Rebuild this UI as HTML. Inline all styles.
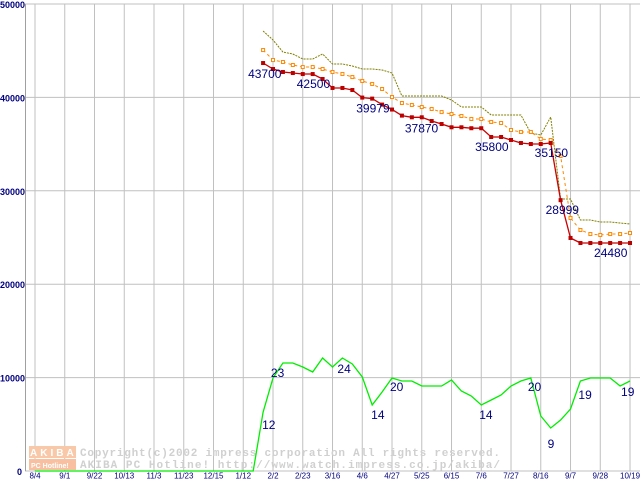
<!DOCTYPE html>
<html><head><meta charset="utf-8"><style>
html,body{margin:0;padding:0;background:#fff;}
svg{display:block;font-family:"Liberation Sans",sans-serif;}
</style></head><body>
<svg id="chart" width="640" height="480" xmlns="http://www.w3.org/2000/svg"></svg>
<script>
const xLabels=["8/4","9/1","9/22","10/13","11/3","11/23","12/15","1/12","2/2","2/23","3/16","4/6","4/27","5/25","6/15","7/6","7/27","8/16","9/7","9/28","10/19"];
const yTicks=[0,10000,20000,30000,40000,50000];
const priceStart=23;
const minPrice=[43680,43040,42720,42610,42500,42500,41970,41010,41010,40790,39980,39870,39230,38700,38050,37870,37870,37470,37150,36800,36800,36700,36700,35760,35760,35440,35120,35010,35010,35120,29000,24950,24410,24410,24410,24410,24410,24410];
const avgPrice=[45070,44000,43790,43470,43250,43250,43040,42720,42510,42180,41760,41440,40900,40040,39400,39190,38970,38760,38430,38220,38010,37690,37690,37370,37260,36510,36300,36300,35550,35440,33730,27090,25800,25370,25270,25370,25370,25480];
const maxPrice=[47110,46150,44860,44650,44110,44110,44650,43580,43580,43360,43040,43040,42930,42610,40150,40150,40150,40150,40150,39720,38970,38970,38970,38120,38120,38120,38120,36190,35970,37900,29120,29120,26870,26870,26660,26660,26550,26450];
const shopStart=22;
const shopCount=[0,6300,9960,11560,11560,11130,10600,12100,11130,12100,11460,10060,7070,8460,9960,9640,9640,9100,9100,9100,9740,8570,8030,7070,7600,8140,9100,9640,9960,5890,4600,5460,6640,9640,9960,9960,9960,9100,9640];
const priceLabels=[["43700",23,43680,-15,15],["42500",27,42500,-6,14],["39979",33,39980,-6,15],["37870",38,37870,-7,15],["35800",46,35760,-16,14],["35150",52,35120,-16,14],["28999",53,29000,-15,14],["24480",60,24410,-36,14]];
const shopLabels=[["12",23,6300,-1,17],["23",25,11560,-12,14],["24",31,12100,-5,15],["14",34,7070,-1,14],["20",36,9960,-2,13],["14",45,7070,-2,14],["20",50,9960,-3,13],["9",52,4600,-3,20],["19",55,9640,-2,18],["19",60,9640,-9,15]];

const NS="http://www.w3.org/2000/svg";
const svg=document.getElementById('chart');
const X0=35,STEP=9.917,Y0=471,YK=93.4/10000;
const xs=i=>X0+i*STEP;
const ys=v=>Y0-v*YK;
function el(tag,attrs,parent){const e=document.createElementNS(NS,tag);for(const k in attrs)e.setAttribute(k,attrs[k]);(parent||svg).appendChild(e);return e;}

yTicks.forEach(v=>{
  const l=el('line',{x1:25,x2:640,y1:ys(v),y2:ys(v),stroke:'#c0c0c0','stroke-width':1});
  
  
  const t=el('text',{x:v===0?22:25,y:ys(v)+4,'text-anchor':'end','font-size':9,'font-weight':'bold',fill:'#000080'});
  t.textContent=v;
  
  
});
xLabels.forEach((s,i)=>{
  const x=xs(i*3);
  const l=el('line',{x1:x,x2:x,y1:4,y2:471,stroke:'#c0c0c0','stroke-width':1});
  
  
  const t=el('text',{x:x,y:478.5,'text-anchor':'middle','font-size':8,fill:'#000080'});
  t.textContent=s;
  
  
});
const ax=el('line',{x1:25.5,x2:25.5,y1:4,y2:471,stroke:'#a0a0a0','stroke-width':1});



const wm=el('g',{});


el('rect',{x:29,y:446,width:47,height:12,fill:'#f8c8a8'},wm);
el('rect',{x:29,y:459,width:47,height:11,fill:'#f8c0a0'},wm);
const w1=el('text',{x:30,y:456,'font-size':10,'font-weight':'bold',fill:'#fff','letter-spacing':'3'},wm);w1.textContent='AKIBA';
const w2=el('text',{x:31,y:468,'font-size':7,'font-weight':'bold',fill:'#fff'},wm);w2.textContent='PC Hotline!';
const c1=el('text',{x:80,y:456,'font-size':11,'font-weight':'bold',fill:'#d0d0d0','font-family':'Liberation Mono, monospace',textLength:420},wm);c1.textContent='Copyright(c)2002 impress corporation All rights reserved.';
const c2=el('text',{x:80,y:468,'font-size':11,'font-weight':'bold',fill:'#d0d0d0','font-family':'Liberation Mono, monospace',textLength:420},wm);c2.textContent='AKIBA PC Hotline!  http://www.watch.impress.co.jp/akiba/';

function pts(arr,start){return arr.map((v,k)=>xs(start+k).toFixed(1)+','+ys(v).toFixed(1)).join(' ');}

const shopAll=[];for(let i=0;i<shopStart;i++)shopAll.push(0);
const g0=el('polyline',{points:pts(shopAll.concat(shopCount),0),fill:'none',stroke:'#00ee00','stroke-width':1.3});



const mx=el('polyline',{points:pts(maxPrice,priceStart),fill:'none',stroke:'#808000','stroke-width':1,'stroke-dasharray':'2,1'});


const av=el('polyline',{points:pts(avgPrice,priceStart),fill:'none',stroke:'#ff8800','stroke-width':1,'stroke-dasharray':'3,3'});


avgPrice.forEach((v,k)=>{
  const r=el('rect',{x:xs(priceStart+k)-1.5,y:ys(v)-1.5,width:3,height:3,fill:'#fff',stroke:'#ff8800','stroke-width':1});
  
  
});
const mn=el('polyline',{points:pts(minPrice,priceStart),fill:'none',stroke:'#cc0000','stroke-width':1.3});


minPrice.forEach((v,k)=>{
  const r=el('rect',{x:xs(priceStart+k)-2,y:ys(v)-2,width:4,height:4,fill:'#bb0000'});
  
  
});

function lab(a,name){
  const t=el('text',{x:xs(a[1])+a[3],y:ys(a[2])+a[4],'font-size':12,fill:'#000080'});
  t.textContent=a[0];
  
  
}
priceLabels.forEach(a=>lab(a,'price-label'));
shopLabels.forEach(a=>lab(a,'shop-count-label'));
</script>
</body></html>
